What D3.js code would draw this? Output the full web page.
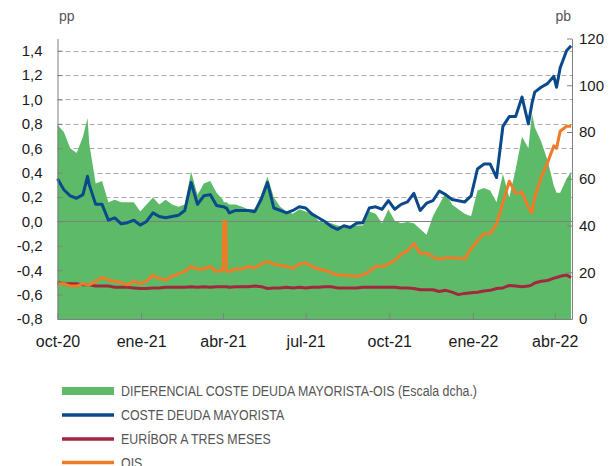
<!DOCTYPE html>
<html>
<head>
<meta charset="utf-8">
<script src="https://cdnjs.cloudflare.com/ajax/libs/d3/7.8.5/d3.min.js"></script>
<style>
  body { margin: 0; background: #fff; }
  svg { display: block; font-family: "Liberation Sans", Arial, sans-serif; }
</style>
</head>
<body>
<svg id="chart" width="616" height="466"></svg>
<script>
// fechas (aprox. semanales, con puntos extra en picos)
const dates = [
  "2020-10-01","2020-10-08","2020-10-15","2020-10-22","2020-10-29","2020-11-03","2020-11-05","2020-11-12",
  "2020-11-19","2020-11-26","2020-12-03","2020-12-10","2020-12-17","2020-12-24","2020-12-31","2021-01-07",
  "2021-01-14","2021-01-21","2021-01-28","2021-02-04","2021-02-11","2021-02-18","2021-02-25","2021-03-04",
  "2021-03-11","2021-03-18","2021-03-25","2021-04-01","2021-04-02","2021-04-04","2021-04-05","2021-04-08",
  "2021-04-15","2021-04-22","2021-04-29","2021-05-06","2021-05-13","2021-05-20","2021-05-27","2021-06-03",
  "2021-06-10","2021-06-17","2021-06-24","2021-07-01","2021-07-08","2021-07-15","2021-07-22","2021-07-29",
  "2021-08-05","2021-08-12","2021-08-19","2021-08-26","2021-09-02","2021-09-09","2021-09-16","2021-09-23",
  "2021-09-30","2021-10-07","2021-10-14","2021-10-21","2021-10-28","2021-11-04","2021-11-11","2021-11-18",
  "2021-11-25","2021-12-02","2021-12-09","2021-12-16","2021-12-23","2021-12-30","2022-01-06","2022-01-13",
  "2022-01-20","2022-01-27","2022-02-03","2022-02-10","2022-02-17","2022-02-24","2022-03-03","2022-03-07",
  "2022-03-10","2022-03-17","2022-03-24","2022-03-31","2022-04-03","2022-04-07","2022-04-14","2022-04-19"
];

// pp, escala izquierda
const costeDeuda = [
  0.35, 0.26, 0.21, 0.19, 0.22, 0.37, 0.30, 0.14,
  0.14, 0.01, 0.03, -0.02, -0.01, 0.01, -0.03, 0.00,
  0.07, 0.04, 0.03, 0.04, 0.05, 0.09, 0.32, 0.14,
  0.21, 0.22, 0.13, 0.12, 0.12, 0.11, 0.11, 0.07,
  0.09, 0.09, 0.09, 0.08, 0.18, 0.32, 0.11, 0.09,
  0.07, 0.09, 0.12, 0.11, 0.06, 0.03, 0.00, -0.04,
  -0.065, -0.035, -0.05, -0.015, -0.01, 0.11, 0.12, 0.10,
  0.17, 0.10, 0.14, 0.16, 0.23, 0.09, 0.15, 0.17,
  0.25, 0.22, 0.18, 0.17, 0.16, 0.21, 0.43, 0.47,
  0.47, 0.36, 0.78, 0.86, 0.86, 1.02, 0.80, 0.97,
  1.06, 1.10, 1.13, 1.19, 1.10, 1.26, 1.40, 1.44
];

const euribor = [
  -0.50, -0.51, -0.51, -0.51, -0.52, -0.52, -0.52, -0.53,
  -0.53, -0.53, -0.54, -0.54, -0.54, -0.545, -0.55, -0.55,
  -0.545, -0.545, -0.54, -0.54, -0.54, -0.54, -0.535, -0.54,
  -0.535, -0.54, -0.535, -0.535, -0.535, -0.535, -0.535, -0.54,
  -0.535, -0.535, -0.535, -0.53, -0.535, -0.55, -0.545, -0.545,
  -0.54, -0.545, -0.54, -0.545, -0.54, -0.54, -0.535, -0.535,
  -0.545, -0.545, -0.545, -0.545, -0.54, -0.54, -0.54, -0.54,
  -0.54, -0.54, -0.545, -0.545, -0.55, -0.56, -0.56, -0.56,
  -0.575, -0.565, -0.58, -0.60, -0.59, -0.585, -0.58, -0.57,
  -0.565, -0.55, -0.545, -0.525, -0.53, -0.535, -0.53, -0.52,
  -0.505, -0.49, -0.485, -0.465, -0.46, -0.45, -0.44, -0.46
];

const ois = [
  -0.51, -0.51, -0.53, -0.53, -0.51, -0.52, -0.52, -0.49,
  -0.46, -0.48, -0.49, -0.50, -0.52, -0.49, -0.51, -0.49,
  -0.44, -0.47, -0.48, -0.45, -0.43, -0.41, -0.37, -0.39,
  -0.39, -0.37, -0.41, -0.40, 0.00, 0.00, -0.41, -0.41,
  -0.39, -0.39, -0.37, -0.38, -0.35, -0.33, -0.35, -0.36,
  -0.37, -0.385, -0.35, -0.34, -0.37, -0.39, -0.40, -0.42,
  -0.44, -0.44, -0.445, -0.45, -0.44, -0.41, -0.37, -0.37,
  -0.35, -0.32, -0.27, -0.24, -0.18, -0.26, -0.26, -0.29,
  -0.31, -0.30, -0.30, -0.30, -0.31, -0.22, -0.16, -0.10,
  -0.10, -0.02, 0.15, 0.33, 0.23, 0.24, 0.115, 0.07,
  0.20, 0.36, 0.48, 0.62, 0.60, 0.74, 0.78, 0.78
];

// pb, escala derecha
const diferencial = [
  83, 80, 73, 71, 78, 86, 75, 58,
  59, 50, 51, 50, 50, 50, 46, 49,
  52, 49, 51, 49, 48, 49, 63, 53,
  58, 59, 54, 51, 50, 50, 50, 49,
  49, 48, 47, 47, 53, 61, 52, 48,
  46, 45, 47, 46, 45, 42, 41, 41,
  40, 39.5, 39.5, 40, 40, 46, 45, 41,
  47, 42, 41, 41.5, 41, 38.5, 36, 44,
  49, 54, 49, 47, 45, 44, 55, 56,
  55, 50, 62, 52, 64, 78, 73, 88,
  82, 76, 68, 57, 54, 54, 60, 63
];

const leftTicks = [-0.8, -0.6, -0.4, -0.2, 0, 0.2, 0.4, 0.6, 0.8, 1.0, 1.2, 1.4];
const rightTicks = [0, 20, 40, 60, 80, 100, 120];
const monthTicks = ["2020-10-01", "2021-01-01", "2021-04-01", "2021-07-01", "2021-10-01", "2022-01-01", "2022-04-01"];
const monthLabels = ["oct-20", "ene-21", "abr-21", "jul-21", "oct-21", "ene-22", "abr-22"];
const legendLabels = [
  "DIFERENCIAL COSTE DEUDA MAYORISTA-OIS (Escala dcha.)",
  "COSTE DEUDA MAYORISTA",
  "EURÍBOR A TRES MESES",
  "OIS"
];

const green = "#5dba69", blue = "#0b4a8a", red = "#a3283f", orange = "#f07b27";

const parse = d3.timeParse("%Y-%m-%d");
const dts = dates.map(parse);

const svg = d3.select("#chart");

const x = d3.scaleTime()
  .domain([parse("2020-10-01"), parse("2022-04-20")])
  .range([57.5, 572]);
const yL = d3.scaleLinear().domain([-0.8, 1.5]).range([319, 38.5]);
const yR = d3.scaleLinear().domain([0, 120]).range([319, 38.5]);

// rejilla discontinua
svg.append("g")
  .selectAll("line")
  .data(leftTicks.filter(t => t > 0))
  .join("line")
    .attr("x1", 57.5).attr("x2", 572)
    .attr("y1", d => Math.round(yL(d)) + 0.5).attr("y2", d => Math.round(yL(d)) + 0.5)
    .attr("stroke", "#aaa")
    .attr("stroke-dasharray", "5,3");

// area diferencial
const area = d3.area()
  .x((d, i) => x(dts[i]))
  .y0(yR(0))
  .y1(d => yR(d));
svg.append("path")
  .datum(diferencial)
  .attr("fill", green)
  .attr("d", area);

// linea del cero
svg.append("line")
  .attr("x1", 57.5).attr("x2", 572)
  .attr("y1", Math.round(yL(0)) + 0.5).attr("y2", Math.round(yL(0)) + 0.5)
  .attr("stroke", "#808080");

const line = d3.line()
  .x((d, i) => x(dts[i]))
  .y(d => yL(d));

[[euribor, red], [ois, orange], [costeDeuda, blue]].forEach(([s, c]) => {
  svg.append("path")
    .datum(s)
    .attr("fill", "none")
    .attr("stroke", c)
    .attr("stroke-width", 3)
    .attr("stroke-linejoin", "round")
    .attr("d", line);
});

const comma = d => d3.format(".1f")(d).replace(".", ",").replace("−", "-");

const axL = svg.append("g")
  .attr("transform", "translate(57.5,0)")
  .call(d3.axisLeft(yL).tickValues(leftTicks).tickSizeInner(-5).tickSizeOuter(0).tickPadding(15).tickFormat(comma));

const axR = svg.append("g")
  .attr("transform", "translate(572,0)")
  .call(d3.axisRight(yR).tickValues(rightTicks).tickSizeInner(-5).tickSizeOuter(0).tickPadding(7));

const axB = svg.append("g")
  .attr("transform", "translate(0,319)")
  .call(d3.axisBottom(x).tickValues(monthTicks.map(parse)).tickSizeInner(-6).tickSizeOuter(0).tickPadding(17)
    .tickFormat((d, i) => monthLabels[i]));

[axL, axR, axB].forEach(g => {
  g.select(".domain").attr("stroke", "#808080");
  g.selectAll(".tick line").attr("stroke", "#808080");
  g.selectAll("text").attr("fill", "#1a1a1a").attr("font-family", "\"Liberation Sans\", Arial, sans-serif");
});
axL.selectAll("text").attr("font-size", 15);
axR.selectAll("text").attr("font-size", 15);
axB.selectAll("text").attr("font-size", 16);

svg.append("text").attr("x", 59).attr("y", 21).attr("font-size", 14).attr("fill", "#555").text("pp");
svg.append("text").attr("x", 571).attr("y", 21).attr("font-size", 14).attr("fill", "#555")
  .attr("text-anchor", "end").text("pb");

// leyenda (texto estrecho: se comprime en horizontal)
const legendColors = [green, blue, red, orange];
const legendY = [391, 415, 439, 462.5];
const lg = svg.append("g");
const labels = [];
legendLabels.forEach((t, i) => {
  if (i === 0) {
    lg.append("rect").attr("x", 62).attr("y", legendY[i] - 4).attr("width", 52).attr("height", 8)
      .attr("fill", legendColors[i]);
  } else {
    lg.append("line").attr("x1", 62).attr("x2", 114).attr("y1", legendY[i]).attr("y2", legendY[i])
      .attr("stroke", legendColors[i]).attr("stroke-width", 3.5);
  }
  labels.push(lg.append("text")
    .attr("x", 0).attr("y", 0).attr("dy", "0.36em")
    .attr("font-size", 15).attr("fill", "#555")
    .text(t));
});
const k = 356 / labels[0].node().getComputedTextLength();
labels.forEach((s, i) => s.attr("transform", `translate(121,${legendY[i]}) scale(${k},1)`));
</script>
</body>
</html>
